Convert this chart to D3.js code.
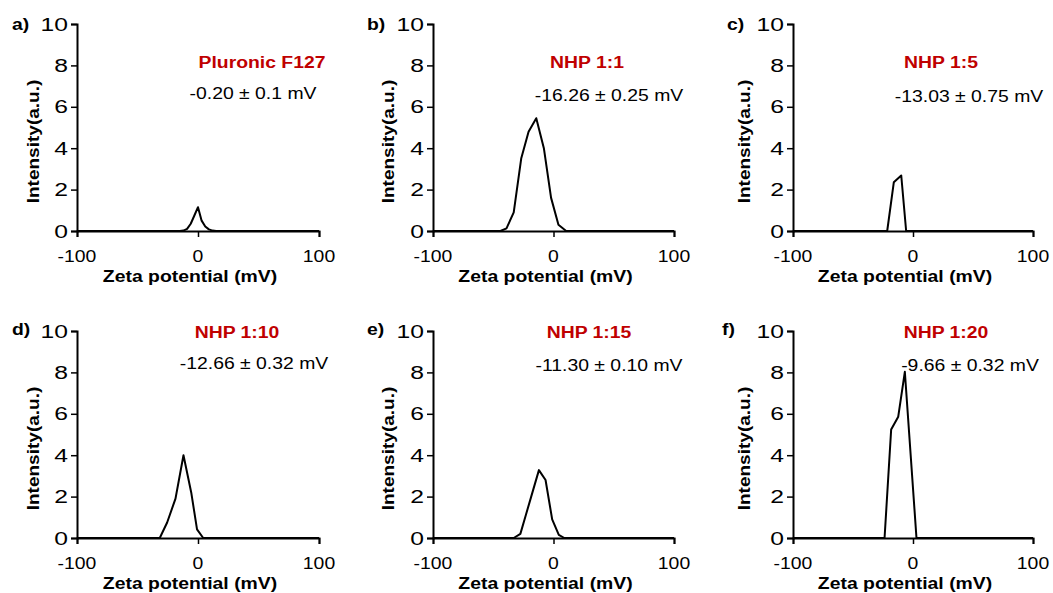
<!DOCTYPE html>
<html>
<head>
<meta charset="utf-8">
<script src="https://cdn.jsdelivr.net/npm/d3@7"></script>
<style>
  body { margin: 0; background: #fff; }
  svg text { font-family: Arial, "Liberation Sans", sans-serif; }
</style>
</head>
<body>
<div id="chart"></div>
<script>
// tick labels
const xTicks = [-100, 0, 100];
const yTicks = [0, 2, 4, 6, 8, 10];

// panel texts
const panelLetters = ['a)', 'b)', 'c)', 'd)', 'e)', 'f)'];
const sampleNames = ['Pluronic F127', 'NHP 1:1', 'NHP 1:5', 'NHP 1:10', 'NHP 1:15', 'NHP 1:20'];
const zetaLabels = ['-0.20 ± 0.1 mV', '-16.26 ± 0.25 mV', '-13.03 ± 0.75 mV',
  '-12.66 ± 0.32 mV', '-11.30 ± 0.10 mV', '-9.66 ± 0.32 mV'];

// distributions (zeta potential in mV, intensity in a.u.)
const potentialA = [-100, -15, -12, -9, -6, -3, 0, 3, 6, 9, 12, 15, 100];
const intensityA = [0, 0, 0.02, 0.1, 0.35, 0.75, 1.15, 0.5, 0.22, 0.08, 0.02, 0, 0];
const potentialB = [-100, -44, -39, -33, -26.8, -20.7, -14.3, -8, -2, 4.1, 10.5, 100];
const intensityB = [0, 0, 0.13, 0.9, 3.5, 4.8, 5.45, 4.0, 1.6, 0.3, 0, 0];
const potentialC = [-100, -21.5, -16, -9.8, -5.7, 100];
const intensityC = [0, 0, 2.35, 2.68, 0, 0];
const potentialD = [-100, -31.6, -25.5, -18.6, -12, -5.6, -0.8, 4.3, 100];
const intensityD = [0, 0, 0.75, 1.9, 4.0, 2.2, 0.42, 0, 0];
const potentialE = [-100, -33, -27.5, -23, -18.5, -12.1, -6.6, -1.1, 4.4, 9, 100];
const intensityE = [0, 0, 0.2, 1.1, 2.0, 3.28, 2.8, 0.9, 0.15, 0, 0];
const potentialF = [-100, -23.7, -18.2, -12.3, -6.8, 2.9, 100];
const intensityF = [0, 0, 5.24, 5.86, 8.03, 0, 0];

const potentials = [potentialA, potentialB, potentialC, potentialD, potentialE, potentialF];
const intensities = [intensityA, intensityB, intensityC, intensityD, intensityE, intensityF];

// layout
const width = 1053, height = 593;
const colLeft = [77, 433, 793];
const colWidth = [242, 241, 240];
const rowTop = [24, 331];
const plotH = 207;
const letterX = [[12, 367, 727], [12, 367, 722]];
const yTitleOffset = [44, 45, 49];
// annotation centres relative to plot origin
const nameOffset = [[185, 38], [154, 38], [148, 38], [160, 1], [156, 1], [153, 1]];
const zetaOffset = [[176, 69], [176, 71], [176, 72], [177, 32], [176, 34], [177, 34]];
const stretch = 1.14;
const red = '#C00000';

const svg = d3.select('#chart').append('svg')
  .attr('width', width)
  .attr('height', height);

function hText(g, x, y, str, opts) {
  return g.append('text')
    .attr('transform', `translate(${x},${y}) scale(${opts.stretch || stretch},1)`)
    .attr('text-anchor', opts.anchor || 'middle')
    .attr('dy', opts.dy !== undefined ? opts.dy : '0.35em')
    .attr('font-size', opts.size || 17)
    .attr('font-weight', opts.bold ? 'bold' : 'normal')
    .attr('fill', opts.color || '#000')
    .text(str);
}

panelLetters.forEach((letter, i) => {
  const row = Math.floor(i / 3), col = i % 3;
  const x0 = colLeft[col], y0 = rowTop[row];
  const w = colWidth[col];

  const x = d3.scaleLinear().domain([-100, 100]).range([x0, x0 + w]);
  const y = d3.scaleLinear().domain([0, 10]).range([y0 + plotH, y0]);

  const g = svg.append('g');

  // curve
  const pts = d3.zip(potentials[i], intensities[i]);
  g.append('path')
    .datum(pts)
    .attr('fill', 'none')
    .attr('stroke', '#000')
    .attr('stroke-width', 2)
    .attr('stroke-linejoin', 'round')
    .attr('d', d3.line().x(d => x(d[0])).y(d => y(d[1])));

  // axes
  const xAxis = g.append('g')
    .attr('transform', `translate(0,${y0 + plotH})`)
    .call(d3.axisBottom(x).tickValues(xTicks).tickSize(6).tickFormat(''));
  const yAxis = g.append('g')
    .attr('transform', `translate(${x0},0)`)
    .call(d3.axisLeft(y).tickValues(yTicks).tickSize(6).tickFormat(''));
  [xAxis, yAxis].forEach(a => {
    a.select('.domain').attr('stroke', '#000').attr('stroke-width', 2);
    a.selectAll('.tick line').attr('stroke', '#000').attr('stroke-width', 1.5);
  });

  xTicks.forEach(t => hText(g, x(t), y0 + plotH + 25, String(t), {}));
  yTicks.forEach(t => hText(g, x0 - 9, y(t), String(t), { anchor: 'end', size: 19, stretch: 1.3 }));

  // axis titles
  hText(g, x0 + w / 2 - 8, y0 + plotH + 45, 'Zeta potential (mV)', { bold: true });
  g.append('text')
    .attr('transform', `translate(${x0 - yTitleOffset[col]},${y0 + plotH / 2 + 14}) rotate(-90) scale(1.19,1)`)
    .attr('text-anchor', 'middle')
    .attr('dy', '0.35em')
    .attr('font-size', 16)
    .attr('font-weight', 'bold')
    .text('Intensity(a.u.)');

  // panel letter and annotations
  hText(g, letterX[row][col], row === 0 ? 30 : 335, letter, { anchor: 'start', bold: true, dy: 0 });
  hText(g, x0 + nameOffset[i][0], y0 + nameOffset[i][1], sampleNames[i], { bold: true, color: red });
  hText(g, x0 + zetaOffset[i][0], y0 + zetaOffset[i][1], zetaLabels[i], {});
});
</script>
</body>
</html>
